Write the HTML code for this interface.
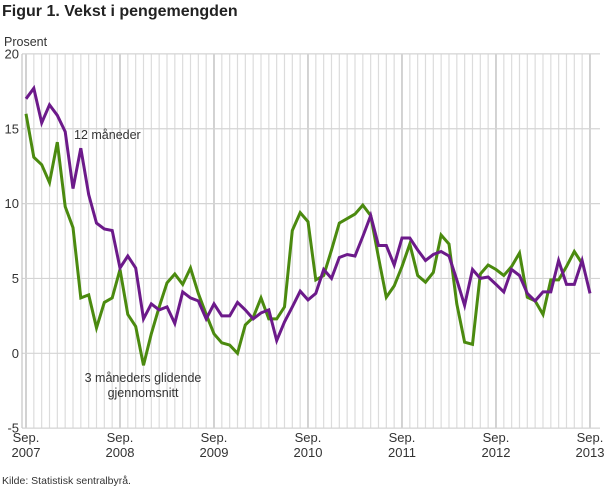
<!DOCTYPE html>
<html><head><meta charset="utf-8"><style>
body{margin:0;background:#fff;}
svg{display:block;font-family:"Liberation Sans",sans-serif;}
</style></head><body>
<svg id="c" width="610" height="488" xmlns="http://www.w3.org/2000/svg">
<text x="2" y="16" font-size="16" font-weight="bold" fill="#222">Figur 1. Vekst i pengemengden</text>
<text x="4" y="46" font-size="12.5" fill="#333">Prosent</text>
<g id="grid"></g>
<g id="lines"></g>
<text x="74" y="139" font-size="12.5" fill="#333">12 måneder</text>
<text x="143" y="382" font-size="12.5" fill="#333" text-anchor="middle">3 måneders glidende</text>
<text x="143" y="397" font-size="12.5" fill="#333" text-anchor="middle">gjennomsnitt</text>
<text x="2" y="484" font-size="10.5" fill="#333">Kilde: Statistisk sentralbyrå.</text>
</svg>
<script>
function X(i){return 26+7.833*i;}
function Y(v){return 353.3-v*14.97;}
var g=document.getElementById('grid'),h='';
for(var i=0;i<=72;i++){var x=X(i);var sep=(i%12==0);
h+='<line x1="'+x+'" y1="54" x2="'+x+'" y2="428" stroke="'+(sep?'#c4c4c4':'#dcdcdc')+'" stroke-width="'+(sep?1.5:1.2)+'"/>';}
for(var v=-5;v<=20;v+=5){var y=Y(v);
h+='<line x1="22" y1="'+y+'" x2="600" y2="'+y+'" stroke="#d4d4d4" stroke-width="1.2"/>';
h+='<text x="19" y="'+(y+4.5)+'" font-size="13" fill="#333" text-anchor="end">'+v+'</text>';}
h+='<line x1="22" y1="54" x2="22" y2="428" stroke="#c4c4c4" stroke-width="1.2"/>';
for(var k=0;k<=6;k++){var x=X(k*12);
h+='<text x="'+x+'" y="442" font-size="13" fill="#333" text-anchor="middle">Sep.</text>';
h+='<text x="'+x+'" y="457" font-size="13" fill="#333" text-anchor="middle">'+(2007+k)+'</text>';}
g.innerHTML=h;
var P=[17.0,17.7,15.4,16.6,15.9,14.8,11.0,13.7,10.6,8.7,8.3,8.2,5.7,6.5,5.7,2.3,3.3,2.9,3.1,2.0,4.1,3.7,3.5,2.3,3.3,2.5,2.5,3.4,2.9,2.3,2.7,2.9,0.85,2.1,3.1,4.15,3.57,4.0,5.6,5.0,6.4,6.6,6.5,7.8,9.2,7.2,7.2,5.9,7.7,7.7,6.9,6.2,6.6,6.8,6.5,4.9,3.2,5.6,5.0,5.1,4.6,4.1,5.6,5.2,4.0,3.5,4.1,4.1,6.2,4.6,4.6,6.2,4.0];
var G=[16.0,13.1,12.6,11.4,14.1,9.8,8.4,3.7,3.9,1.7,3.4,3.7,5.6,2.6,1.8,-0.8,1.3,3.1,4.7,5.3,4.6,5.7,4.0,2.6,1.3,0.7,0.55,0.0,1.9,2.4,3.7,2.3,2.3,3.1,8.2,9.4,8.8,4.9,5.2,6.9,8.7,9.0,9.3,9.9,9.2,6.4,3.75,4.5,5.8,7.3,5.2,4.75,5.4,7.9,7.3,3.3,0.74,0.6,5.3,5.9,5.6,5.2,5.8,6.7,3.75,3.5,2.6,4.9,4.9,5.8,6.8,6.0];
function pl(a,c){return '<polyline fill="none" stroke="'+c+'" stroke-width="3" stroke-linejoin="miter" points="'+a.map(function(v,i){return X(i).toFixed(1)+','+Y(v).toFixed(1)}).join(' ')+'"/>';}
document.getElementById('lines').innerHTML=pl(G,'#4b8a0f')+pl(P,'#6c1a8a');
</script>
</body></html>
